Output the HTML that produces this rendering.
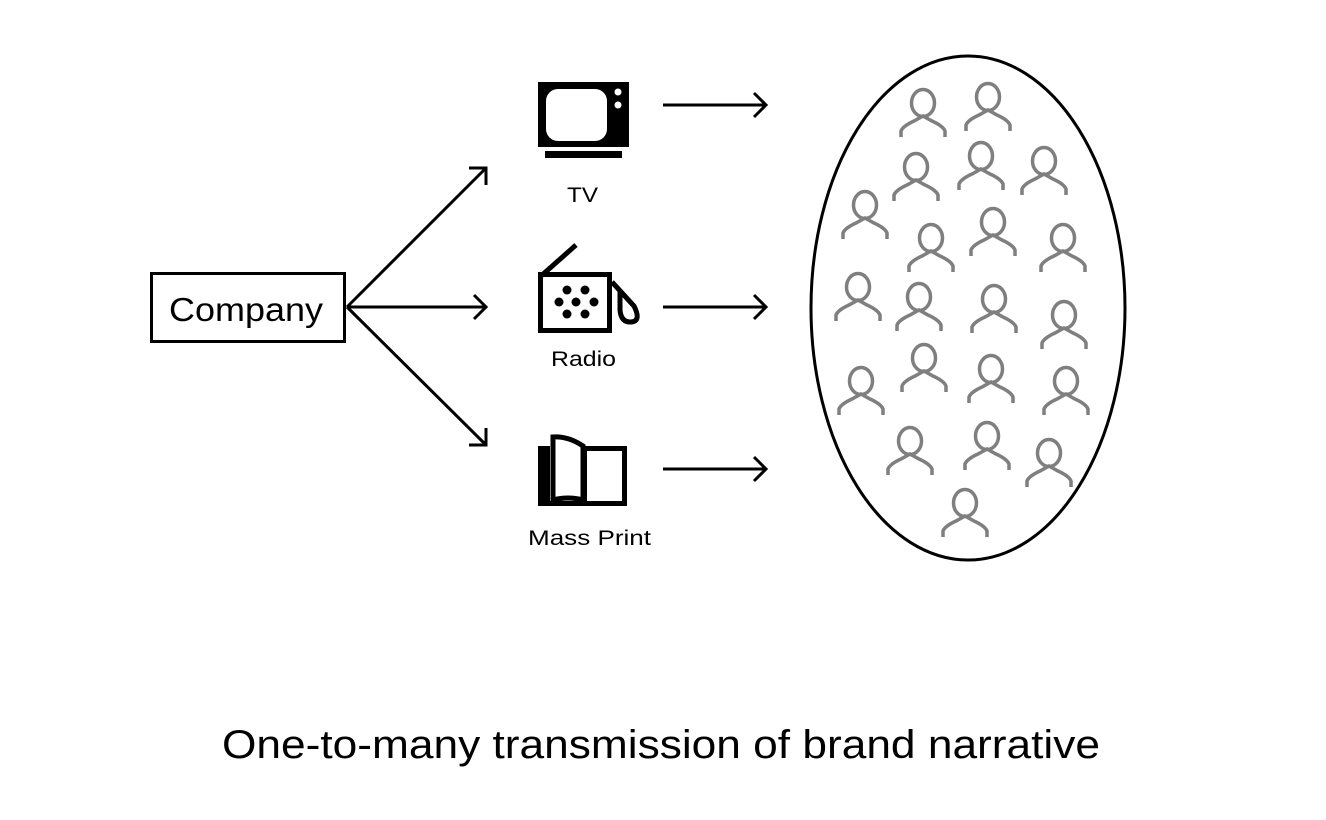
<!DOCTYPE html>
<html><head><meta charset="utf-8"><style>
html,body{margin:0;padding:0;background:#fff;}
svg{display:block;}
text{font-family:"Liberation Sans",sans-serif;fill:#000;}
</style></head><body>
<svg width="1326" height="820" viewBox="0 0 1326 820" xmlns="http://www.w3.org/2000/svg">
<defs>
<g id="p" fill="none" stroke="#7f7f7f" stroke-width="3.5" stroke-linecap="butt">
<ellipse cx="0" cy="14" rx="11.5" ry="13.5"/>
<path d="M-22,48 V42 Q-20,37 -9,32 L0,27 L9,32 Q20,37 22,42 V48"/>
</g>
</defs>
<!-- Company -->
<rect x="151.5" y="273.5" width="193" height="68" fill="none" stroke="#000" stroke-width="3"/>
<text x="169" y="321" font-size="33" textLength="154" lengthAdjust="spacingAndGlyphs">Company</text>
<g stroke="#000" stroke-width="3" fill="none">
<line x1="347" y1="307" x2="485" y2="169"/>
<line x1="347" y1="307" x2="485" y2="307"/>
<line x1="347" y1="307" x2="485" y2="444"/>
<path d="M469,168 H486 V185"/>
<path d="M474,295 L486,307 L474,319"/>
<path d="M469,445 H486 V428"/>
<line x1="663" y1="105" x2="766" y2="105"/>
<path d="M754,93 L766,105 L754,117"/>
<line x1="663" y1="307" x2="766" y2="307"/>
<path d="M754,295 L766,307 L754,319"/>
<line x1="663" y1="469" x2="766" y2="469"/>
<path d="M754,457 L766,469 L754,481"/>
</g>
<!-- TV -->
<rect x="538" y="82" width="91" height="65" fill="#000"/>
<rect x="546" y="89" width="61" height="52" rx="12" fill="#fff"/>
<circle cx="618" cy="92" r="3.5" fill="#fff"/>
<circle cx="618" cy="105" r="3.5" fill="#fff"/>
<rect x="545" y="151" width="77" height="7" fill="#000"/>
<text x="567" y="202" font-size="21" textLength="31" lengthAdjust="spacingAndGlyphs">TV</text>
<!-- Radio -->
<line x1="541" y1="276" x2="576" y2="245" stroke="#000" stroke-width="5"/>
<rect x="540.5" y="274.5" width="69" height="56" fill="none" stroke="#000" stroke-width="5"/>
<g fill="#000">
<circle cx="567" cy="290" r="4.5"/><circle cx="585" cy="290" r="4.5"/>
<circle cx="559" cy="302" r="4.5"/><circle cx="576" cy="302" r="4.5"/><circle cx="594" cy="302" r="4.5"/>
<circle cx="567" cy="314" r="4.5"/><circle cx="585" cy="314" r="4.5"/>
</g>
<path d="M612,282 L634,306 Q642,322 630,322 Q621,322 620,310 L620,290" fill="none" stroke="#000" stroke-width="5"/>
<text x="551" y="366" font-size="21" textLength="65" lengthAdjust="spacingAndGlyphs">Radio</text>
<!-- Book -->
<rect x="538" y="446" width="12" height="60" fill="#000"/>
<path d="M553,437 Q568,436 583,446 V500 Q568,496 553,500 Z" fill="#fff" stroke="#000" stroke-width="5"/>
<rect x="584.5" y="448.5" width="40" height="55" fill="none" stroke="#000" stroke-width="5"/>
<rect x="538" y="501" width="89" height="5" fill="#000"/>
<text x="528" y="545" font-size="21" textLength="123" lengthAdjust="spacingAndGlyphs">Mass Print</text>
<!-- crowd -->
<ellipse cx="968" cy="308" rx="157" ry="252" fill="none" stroke="#000" stroke-width="3"/>
<use href="#p" x="923" y="89"/><use href="#p" x="988" y="83"/>
<use href="#p" x="916" y="153"/><use href="#p" x="981" y="142"/><use href="#p" x="1044" y="147"/>
<use href="#p" x="865" y="191"/><use href="#p" x="931" y="224"/><use href="#p" x="993" y="208"/><use href="#p" x="1063" y="224"/>
<use href="#p" x="858" y="273"/><use href="#p" x="919" y="283"/><use href="#p" x="994" y="285"/><use href="#p" x="1064" y="301"/>
<use href="#p" x="924" y="344"/><use href="#p" x="991" y="355"/><use href="#p" x="1066" y="367"/><use href="#p" x="861" y="367"/>
<use href="#p" x="910" y="427"/><use href="#p" x="987" y="422"/><use href="#p" x="1049" y="439"/>
<use href="#p" x="965" y="489"/>
<text x="222" y="758" font-size="40" textLength="878" lengthAdjust="spacingAndGlyphs">One-to-many transmission of brand narrative</text>
</svg>
</body></html>
